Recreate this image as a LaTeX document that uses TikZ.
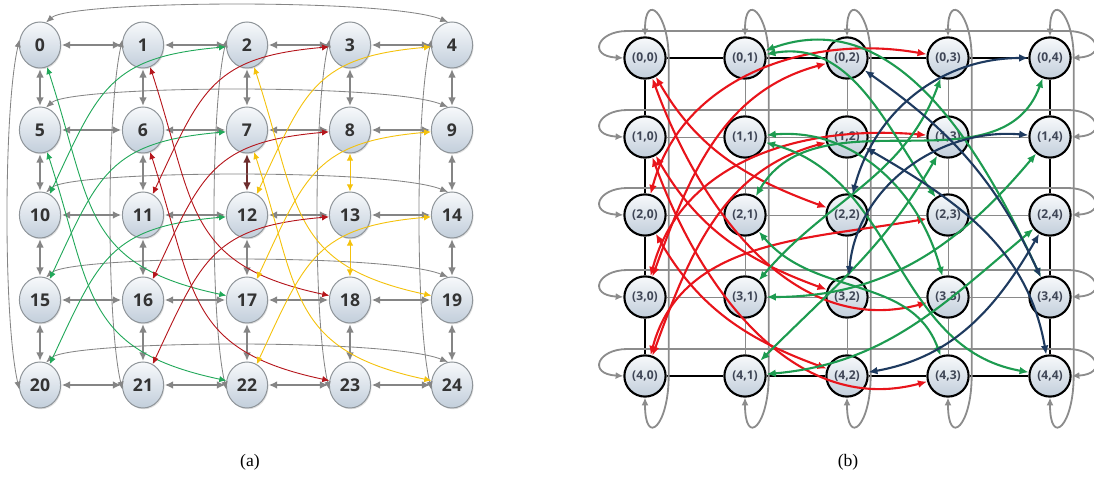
\documentclass[tikz,border=0pt]{standalone}
\usepackage{fontspec}
\setmainfont{Liberation Serif}
\newfontfamily\labfont{Open Sans}
\usetikzlibrary{arrows.meta,shapes.geometric,shadows,calc}
\definecolor{ntop}{HTML}{F7F9FB}
\definecolor{nbot}{HTML}{C2CEDB}
\definecolor{nborder}{HTML}{8E9499}
\definecolor{ntext}{HTML}{333333}
\definecolor{btext}{HTML}{3F4656}
\definecolor{ngray}{HTML}{858585}
\definecolor{wgray}{HTML}{8C8C8C}
\definecolor{meshgray}{HTML}{8A8A8A}
\definecolor{cgreen}{HTML}{22A85A}
\definecolor{cred}{HTML}{B5161C}
\definecolor{cyel}{HTML}{F4C20D}
\definecolor{cbrown}{HTML}{6E2E2E}
\definecolor{bred}{HTML}{E8141B}
\definecolor{bgreen}{HTML}{1D9B50}
\definecolor{bnavy}{HTML}{1E3A5F}
\tikzset{
  anode/.style={ellipse, draw=nborder, line width=0.7pt, top color=ntop, bottom color=nbot,
    minimum width=1.03cm, minimum height=1.15cm, inner sep=0pt, text=ntext,
    font=\labfont\bfseries\fontsize{12.5}{14}\selectfont,
    drop shadow={opacity=0.25, shadow xshift=0.7pt, shadow yshift=-0.9pt}},
  bnode/.style={circle, draw=black, line width=1.5pt, top color=ntop, bottom color=nbot,
    minimum size=1.03cm, inner sep=0pt, text=btext,
    font=\labfont\bfseries\fontsize{8.6}{10}\selectfont},
  garr/.style={color=ngray, line width=1pt, shorten <=0.5pt, shorten >=0.5pt,
    {Latex[length=6pt,width=5.5pt]}-{Latex[length=6pt,width=5.5pt]}},
  gwrap/.style={color=ngray, line width=0.6pt,
    {Latex[length=5.5pt,width=4.5pt]}-{Latex[length=5.5pt,width=4.5pt]}},
  ca/.style={line width=0.65pt, {Latex[length=5pt,width=4.5pt]}-{Latex[length=5pt,width=4.5pt]}},
  cg/.style={ca, color=cgreen},
  cr/.style={ca, color=cred},
  cy/.style={ca, color=cyel},
  meshline/.style={color=meshgray, line width=0.6pt},
  rim/.style={color=black, line width=1.6pt},
  bwrap/.style={color=wgray, line width=1.3pt,
    {Latex[length=5.5pt,width=5pt]}-{Latex[length=5.5pt,width=5pt]}},
  bc/.style={line width=1.5pt, {Latex[length=6.5pt,width=5.5pt]}-{Latex[length=6.5pt,width=5.5pt]}},
  br/.style={bc, color=bred},
  bg/.style={bc, color=bgreen},
  bn/.style={bc, color=bnavy},
  capt/.style={font=\fontsize{12.5}{14}\selectfont, inner sep=0pt}
}
\begin{document}
\begin{tikzpicture}[x=0.025cm,y=0.025cm]
\useasboundingbox (0,0) rectangle (1094,480);
%%% (a)
\foreach \r/\y in {0/435,1/350,2/265,3/180,4/95} % edit here for the rows
\foreach \c/\x in {0/40,1/143,2/247,3/350,4/452}{
  \pgfmathtruncatemacro\k{5*\r+\c}
  \node[anode] (a\k) at (\x,\y) {\k};
}
\foreach \r in {0,...,4} % neighbours in a row
\foreach \c in {0,...,3}{
  \pgfmathtruncatemacro\i{5*\r+\c}
  \pgfmathtruncatemacro\j{\i+1}
  \draw[garr] (a\i) -- (a\j);
}
\foreach \i in {0,1,2,3,4,5,6,9,10,11,12,14,15,16,17,18,19}{ % neighbours in a column
  \pgfmathtruncatemacro\j{\i+5}
  \draw[garr] (a\i) -- (a\j);
}
\draw[garr, color=cbrown] (a7) -- (a12);
\draw[cy] (a8) -- (a13);
\draw[cy] (a13) -- (a18);
\foreach \r in {0,...,4}{ % wrap round a row
  \pgfmathtruncatemacro\i{5*\r}
  \pgfmathtruncatemacro\j{5*\r+4}
  \draw[gwrap] (a\i.75) .. controls +(25,22) and +(-60,24) .. (a\j.100);
}
\foreach \c in {0,...,4}{ % wrap round a column
  \pgfmathtruncatemacro\j{\c+20}
  \draw[gwrap] (a\c.165) .. controls +(-16,-70) and +(-16,70) .. (a\j.192);
}
\foreach \ea/\eb/\es in {0/17/cg,5/22/cg,1/18/cr,6/23/cr,2/19/cy,7/24/cy}
  \draw[\es] (a\ea) to[out=-72,in=168,looseness=1.3] (a\eb);
\foreach \ea/\eb/\es in {2/10/cg,7/15/cg,12/20/cg,3/11/cr,8/16/cr,13/21/cr,4/12/cy,9/17/cy,14/22/cy}
  \draw[\es] (a\ea) to[out=185,in=65,looseness=1.3] (a\eb);
\node[capt] (capa) at (250,18) {(a)};
%%% (b)
\foreach \r/\y in {0/422,1/343,2/265,3/183,4/104}
\foreach \c/\x in {0/645,1/745,2/847,3/948,4/1050}
  \node[bnode] (b\r\c) at (\x,\y) {(\r,\c)};
\foreach \r in {1,2,3} % inner mesh
\foreach \c/\d in {0/1,1/2,2/3,3/4}{
  \draw[meshline] (b\r\c) -- (b\r\d);
  \draw[meshline] (b\c\r) -- (b\d\r);
}
\foreach \c/\d in {0/1,1/2,2/3,3/4}{ % outer ring
  \draw[rim] (b0\c) -- (b0\d);
  \draw[rim] (b4\c) -- (b4\d);
  \draw[rim] (b\c0) -- (b\d0);
  \draw[rim] (b\c4) -- (b\d4);
}
\foreach \r in {0,...,4} % wrap round a row
  \draw[bwrap] (b\r0.west) .. controls +(-36,2) and +(-30,0) .. ($(b\r0.west)+(4,27)$)
    -- ($(b\r4.east)+(-4,27)$) .. controls +(30,0) and +(36,2) .. (b\r4.east);
\foreach \c in {0,...,4} % wrap round a column
  \draw[bwrap] (b0\c.north) .. controls +(0,45) and +(0,45) .. ($(b0\c.east)+(2,0)$)
    -- ($(b4\c.east)+(2,0)$) .. controls +(0,-50) and +(0,-50) .. (b4\c.south);
\foreach \ea/\eb/\eo/\ei in {00/22/-60/160,10/32/-60/160,20/42/-60/160,30/02/70/195,40/12/70/195,
    00/33/-70/195,10/43/-70/195,20/03/75/170,30/13/75/175,40/23/75/190}
  \draw[br] (b\ea) to[out=\eo,in=\ei] (b\eb);
\foreach \ea/\eb/\eo/\ei in {01/23/10/125,01/34/20/115,11/33/5/105,11/44/-15/170,21/43/-50/110,
    21/04/60/-110,31/03/50/-110,31/14/0/-130,41/13/45/-120,41/24/5/-140}
  \draw[bg] (b\ea) to[out=\eo,in=\ei] (b\eb);
\foreach \ea/\eb/\eo/\ei in {02/34/-35/115,12/44/-30/100,22/04/75/180,32/14/85/175,42/24/10/-120}
  \draw[bn] (b\ea) to[out=\eo,in=\ei] (b\eb);
\node[capt] (capb) at (848,18) {(b)};
\end{tikzpicture}
\end{document}
